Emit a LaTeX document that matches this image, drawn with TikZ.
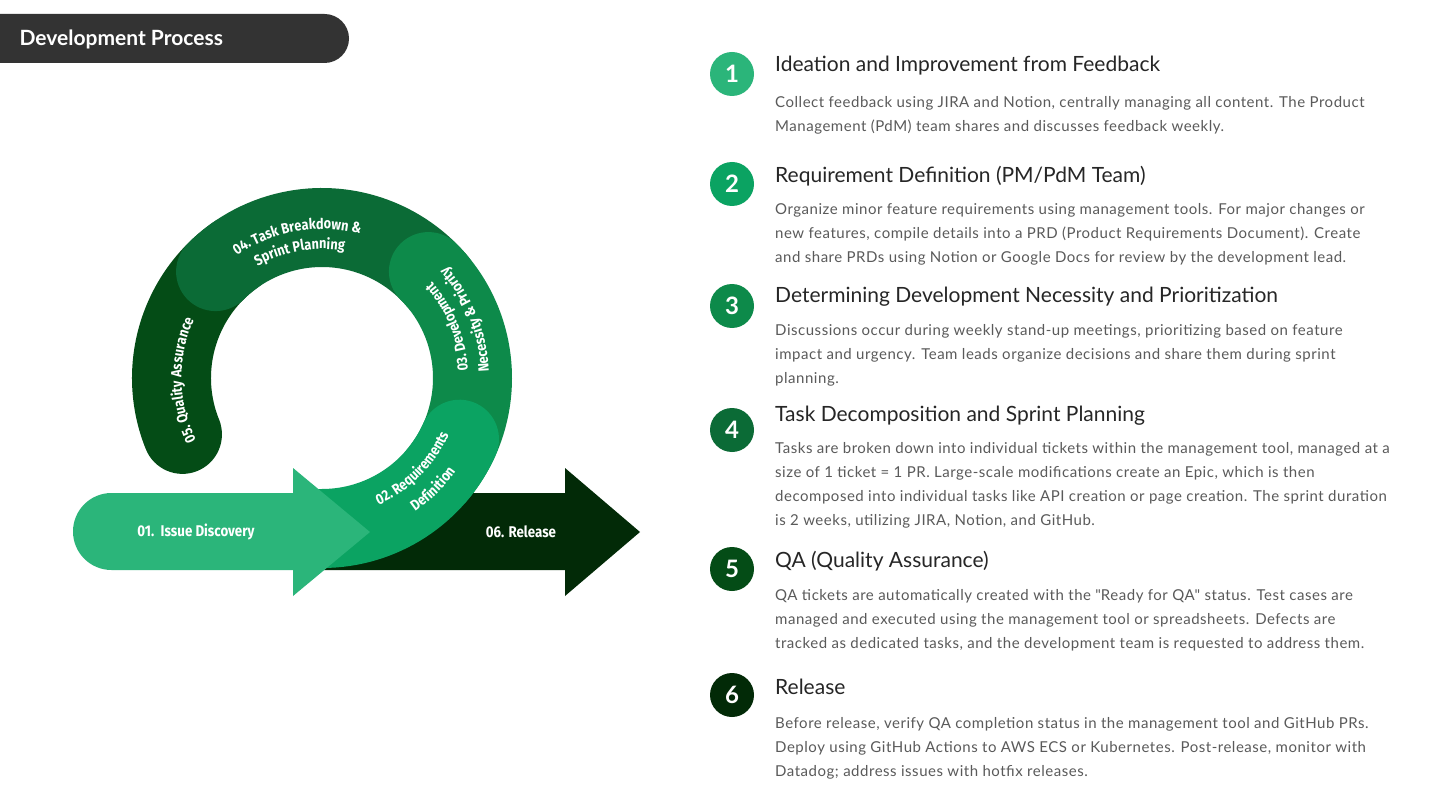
\documentclass[tikz,border=0pt]{standalone}
\usepackage{fontspec}
\setmainfont{Lato}
\newfontfamily\bodyfont[LetterSpace=3.5]{Lato}
\newfontfamily\ringfont[FakeStretch=0.86]{Fira Sans}
\usetikzlibrary{decorations.text}

\definecolor{gA}{HTML}{2BB57A}
\definecolor{gB}{HTML}{0BA362}
\definecolor{gC}{HTML}{0D8A4A}
\definecolor{gD}{HTML}{0B6B36}
\definecolor{gE}{HTML}{044C16}
\definecolor{gF}{HTML}{022A07}
\definecolor{titlebg}{HTML}{333333}
\definecolor{headgray}{HTML}{262626}
\definecolor{bodygray}{HTML}{5A5A5A}

% text along the ring: radius, start angle, end angle, text
\newcommand{\ringlabel}[4]{%
  \path[decorate, decoration={text along path, text align=center, text color=white,
      text={|\ringfont\bfseries\fontsize{14.8}{17}\selectfont|#4}}]
    (ring) ++(#2:#1) arc[start angle=#2, end angle=#3, radius=#1];}

\begin{document}
\begin{tikzpicture}[x=1pt, y=1pt,
    band/.style={line width=79pt, line cap=round},
    num/.style={circle, minimum size=44pt, inner sep=0pt, text=white,
      font=\bfseries\fontsize{24}{24}\selectfont},
    head/.style={anchor=west, inner sep=0pt, text=headgray,
      font=\fontsize{21}{24}\selectfont},
    body/.style={anchor=north west, inner sep=0pt, align=left, text=bodygray,
      font=\bodyfont\fontsize{15}{24}\selectfont},
    arrowlbl/.style={text=white, font=\ringfont\bfseries\fontsize{15.5}{18}\selectfont}
]
  \fill[white] (0,0) rectangle (1440,-810);
  \useasboundingbox (0,0) rectangle (1440,-810);

  % title bar
  \fill[titlebg] (-5,-14) -- (324.5,-14) arc[start angle=90, end angle=-90, radius=24.5]
    -- (-5,-63) -- cycle;
  \node[anchor=west, text=white, font=\bfseries\fontsize{21}{24}\selectfont] (title)
    at (16,-39.5) {Development Process};

  % cycle
  \coordinate (ring) at (322,-378);
  \fill[gF] (322,-493) -- (565,-493) -- (565,-468) -- (640,-532) -- (565,-596)
    -- (565,-570) -- (322,-570) -- cycle;
  \draw[band, gE] (ring) ++(125:150.5) arc[start angle=125, end angle=202, radius=150.5];
  \draw[band, gD] (ring) ++(40:150.5) arc[start angle=40, end angle=135, radius=150.5];
  \draw[band, gC] (ring) ++(-40:150.5) arc[start angle=-40, end angle=45, radius=150.5];
  \draw[band, gB] (ring) ++(-90:150.5) arc[start angle=-90, end angle=-24, radius=150.5];
  \fill[gA] (111.5,-493) -- (293,-493) -- (293,-468) -- (370,-532) -- (293,-596)
    -- (293,-570) -- (111.5,-570) arc[start angle=270, end angle=90, radius=38.5] -- cycle;

  \ringlabel{140.5}{231}{131}{05. Quality Assurance}
  \ringlabel{149}{150}{50}{04. Task Breakdown {\&}}
  \ringlabel{129}{150}{50}{Sprint Planning}
  \ringlabel{146}{-30}{74}{03. Development}
  \ringlabel{167}{-30}{74}{Necessity {\&} Priority}
  \ringlabel{139}{-100}{10}{02. Requirements}
  \ringlabel{163}{-100}{10}{Definition}

  \node[arrowlbl] (issue) at (196,-532) {01.\ \ Issue Discovery};
  \node[arrowlbl] (release) at (521,-532) {06. Release};

  % steps
  \node[num, fill=gA] (n1) at (732,-74)  {1};
  \node[num, fill=gB] (n2) at (732,-184) {2};
  \node[num, fill=gC] (n3) at (732,-306) {3};
  \node[num, fill=gD] (n4) at (732,-430) {4};
  \node[num, fill=gE] (n5) at (732,-569) {5};
  \node[num, fill=gF] (n6) at (732,-695) {6};

  \node[head] (h1) at (775,-66)  {Ideation and Improvement from Feedback};
  \node[head] (h2) at (775,-176) {Requirement Definition (PM/PdM Team)};
  \node[head] (h3) at (775,-297) {Determining Development Necessity and Prioritization};
  \node[head] (h4) at (775,-416) {Task Decomposition and Sprint Planning};
  \node[head] (h5) at (775,-561) {QA (Quality Assurance)};
  \node[head] (h6) at (775,-687) {Release};

  \node[body] (b1) at (775,-96) {Collect feedback using JIRA and Notion, centrally managing all content. The Product\\
    Management (PdM) team shares and discusses feedback weekly.};
  \node[body] (b2) at (775,-203) {Organize minor feature requirements using management tools. For major changes or\\
    new features, compile details into a PRD (Product Requirements Document). Create\\
    and share PRDs using Notion or Google Docs for review by the development lead.};
  \node[body] (b3) at (775,-324) {Discussions occur during weekly stand-up meetings, prioritizing based on feature\\
    impact and urgency. Team leads organize decisions and share them during sprint\\
    planning.};
  \node[body] (b4) at (775,-442) {Tasks are broken down into individual tickets within the management tool, managed at a\\
    size of 1 ticket = 1 PR. Large-scale modifications create an Epic, which is then\\
    decomposed into individual tasks like API creation or page creation. The sprint duration\\
    is 2 weeks, utilizing JIRA, Notion, and GitHub.};
  \node[body] (b5) at (775,-589) {QA tickets are automatically created with the \textquotedbl Ready for QA\textquotedbl\ status. Test cases are\\
    managed and executed using the management tool or spreadsheets. Defects are\\
    tracked as dedicated tasks, and the development team is requested to address them.};
  \node[body] (b6) at (775,-717) {Before release, verify QA completion status in the management tool and GitHub PRs.\\
    Deploy using GitHub Actions to AWS ECS or Kubernetes. Post-release, monitor with\\
    Datadog; address issues with hotfix releases.};
\end{tikzpicture}
\end{document}
